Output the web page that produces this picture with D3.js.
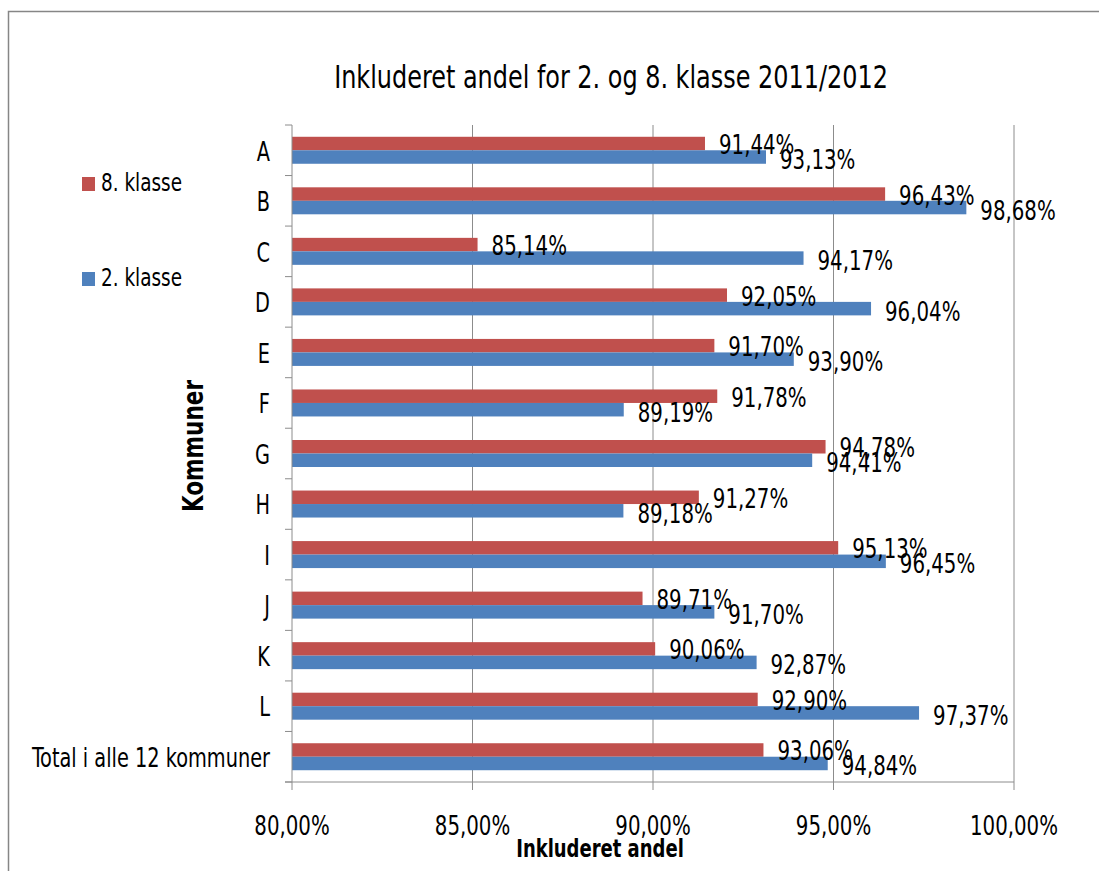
<!DOCTYPE html>
<html>
<head>
<meta charset="utf-8">
<script src="https://cdnjs.cloudflare.com/ajax/libs/d3/7.8.5/d3.min.js"></script>
<style>
  body { margin: 0; background: #fff; }
  text { font-family: "DejaVu Sans Condensed", "DejaVu Sans", sans-serif; fill: #000; }
</style>
</head>
<body>
<div id="chart"></div>
<script>
// chart data
var categories = ["A", "B", "C", "D", "E", "F", "G", "H", "I", "J", "K", "L", "Total i alle 12 kommuner"];
var series = ["8. klasse", "2. klasse"];
var klasse8 = [91.44, 96.43, 85.14, 92.05, 91.70, 91.78, 94.78, 91.27, 95.13, 89.71, 90.06, 92.90, 93.06];
var klasse2 = [93.13, 98.68, 94.17, 96.04, 93.90, 89.19, 94.41, 89.18, 96.45, 91.70, 92.87, 97.37, 94.84];
var xTicks = [80, 85, 90, 95, 100];
var colors = ["#C0504D", "#4F81BD"];

var W = 1099, H = 871;
// plot area
var margin = {top: 125, right: 85, bottom: 89, left: 292},
    width = W - margin.left - margin.right,
    height = H - margin.top - margin.bottom;

// the original text is tall and narrow, so stretch it a bit vertically
var SY = 1.2;
function place(x, y) { return "translate(" + x + "," + y + ") scale(1," + SY + ")"; }

var fmt = function(v) { return v.toFixed(2).replace(".", ",") + "%"; };

var svg = d3.select("#chart").append("svg")
    .attr("width", W)
    .attr("height", H);

// outer chart border
svg.append("rect")
    .attr("x", 8.5).attr("y", 11.5)
    .attr("width", W + 20).attr("height", H + 20)
    .attr("fill", "none")
    .attr("stroke", "#868686")
    .attr("stroke-width", 1.5);

var g = svg.append("g")
    .attr("transform", "translate(" + margin.left + "," + margin.top + ")");

// scales
var x = d3.scaleLinear().domain([80, 100]).range([0, width]);
var y0 = d3.scaleBand().domain(categories).range([0, height])
    .paddingInner(0.466).paddingOuter(0.233);
var y1 = d3.scaleBand().domain(series).range([0, y0.bandwidth()]);
var step = y0.step();

// gridlines
g.selectAll(".grid")
    .data(xTicks.slice(1))
    .enter().append("line")
    .attr("x1", function(d) { return x(d); })
    .attr("x2", function(d) { return x(d); })
    .attr("y1", 0).attr("y2", height)
    .attr("stroke", "#8c8c8c").attr("stroke-width", 1);

// bars
var rows = categories.map(function(c, i) {
  return {cat: c, vals: [klasse8[i], klasse2[i]]};
});

var grp = g.selectAll(".cat")
    .data(rows)
    .enter().append("g")
    .attr("transform", function(d) { return "translate(0," + y0(d.cat) + ")"; });

grp.selectAll("rect")
    .data(function(d) { return d.vals.map(function(v, j) { return {s: series[j], v: v, j: j}; }); })
    .enter().append("rect")
    .attr("x", 0)
    .attr("y", function(d) { return y1(d.s); })
    .attr("width", function(d) { return x(d.v); })
    .attr("height", y1.bandwidth())
    .attr("fill", function(d) { return colors[d.j]; });

// data labels
grp.selectAll(".lbl")
    .data(function(d) { return d.vals.map(function(v, j) { return {s: series[j], v: v, j: j}; }); })
    .enter().append("text")
    .attr("transform", function(d) {
      return place(x(d.v) + 14, y1(d.s) + y1.bandwidth() / 2 + 1 + d.j * 1.5);
    })
    .attr("dy", "0.36em")
    .style("font-size", "22px")
    .text(function(d) { return fmt(d.v); });

// y axis line + ticks at category boundaries
g.append("line")
    .attr("x1", 0).attr("x2", 0).attr("y1", 0).attr("y2", height)
    .attr("stroke", "#8c8c8c");
g.selectAll(".ytick")
    .data(d3.range(categories.length + 1))
    .enter().append("line")
    .attr("x1", -7).attr("x2", 0)
    .attr("y1", function(i) { return i * step; })
    .attr("y2", function(i) { return i * step; })
    .attr("stroke", "#8c8c8c");

// category labels
g.selectAll(".ylabel")
    .data(categories)
    .enter().append("text")
    .attr("transform", function(d) { return place(-22, y0(d) + y0.bandwidth() / 2 + 1); })
    .attr("dy", "0.36em")
    .attr("text-anchor", "end")
    .style("font-size", "21.5px")
    .text(function(d) { return d; });

// x axis
g.append("line")
    .attr("x1", -7).attr("x2", width).attr("y1", height).attr("y2", height)
    .attr("stroke", "#8c8c8c");
g.selectAll(".xtick")
    .data(xTicks)
    .enter().append("line")
    .attr("x1", function(d) { return x(d); })
    .attr("x2", function(d) { return x(d); })
    .attr("y1", height).attr("y2", height + 8)
    .attr("stroke", "#8c8c8c");
g.selectAll(".xlabel")
    .data(xTicks)
    .enter().append("text")
    .attr("transform", function(d) { return place(x(d), height + 53); })
    .attr("text-anchor", "middle")
    .style("font-size", "22px")
    .text(function(d) { return d.toFixed(2).replace(".", ",") + "%"; });

// axis titles
svg.append("text")
    .attr("transform", place(600, 857))
    .attr("text-anchor", "middle")
    .style("font-size", "20px").style("font-weight", "bold")
    .text("Inkluderet andel");

svg.append("text")
    .attr("transform", "translate(203,446) rotate(-90) scale(1," + SY + ")")
    .attr("text-anchor", "middle")
    .style("font-size", "24px").style("font-weight", "bold")
    .text("Kommuner");

// title
svg.append("text")
    .attr("transform", place(611, 88))
    .attr("text-anchor", "middle")
    .style("font-size", "26.6px")
    .text("Inkluderet andel for 2. og 8. klasse 2011/2012");

// legend
var legend = svg.selectAll(".legend")
    .data(series)
    .enter().append("g")
    .attr("transform", function(d, i) { return "translate(82," + (177 + i * 95) + ")"; });
legend.append("rect")
    .attr("width", 13).attr("height", 14)
    .attr("fill", function(d, i) { return colors[i]; });
legend.append("text")
    .attr("transform", place(19, 14))
    .style("font-size", "20.5px")
    .text(function(d) { return d; });
</script>
</body>
</html>
